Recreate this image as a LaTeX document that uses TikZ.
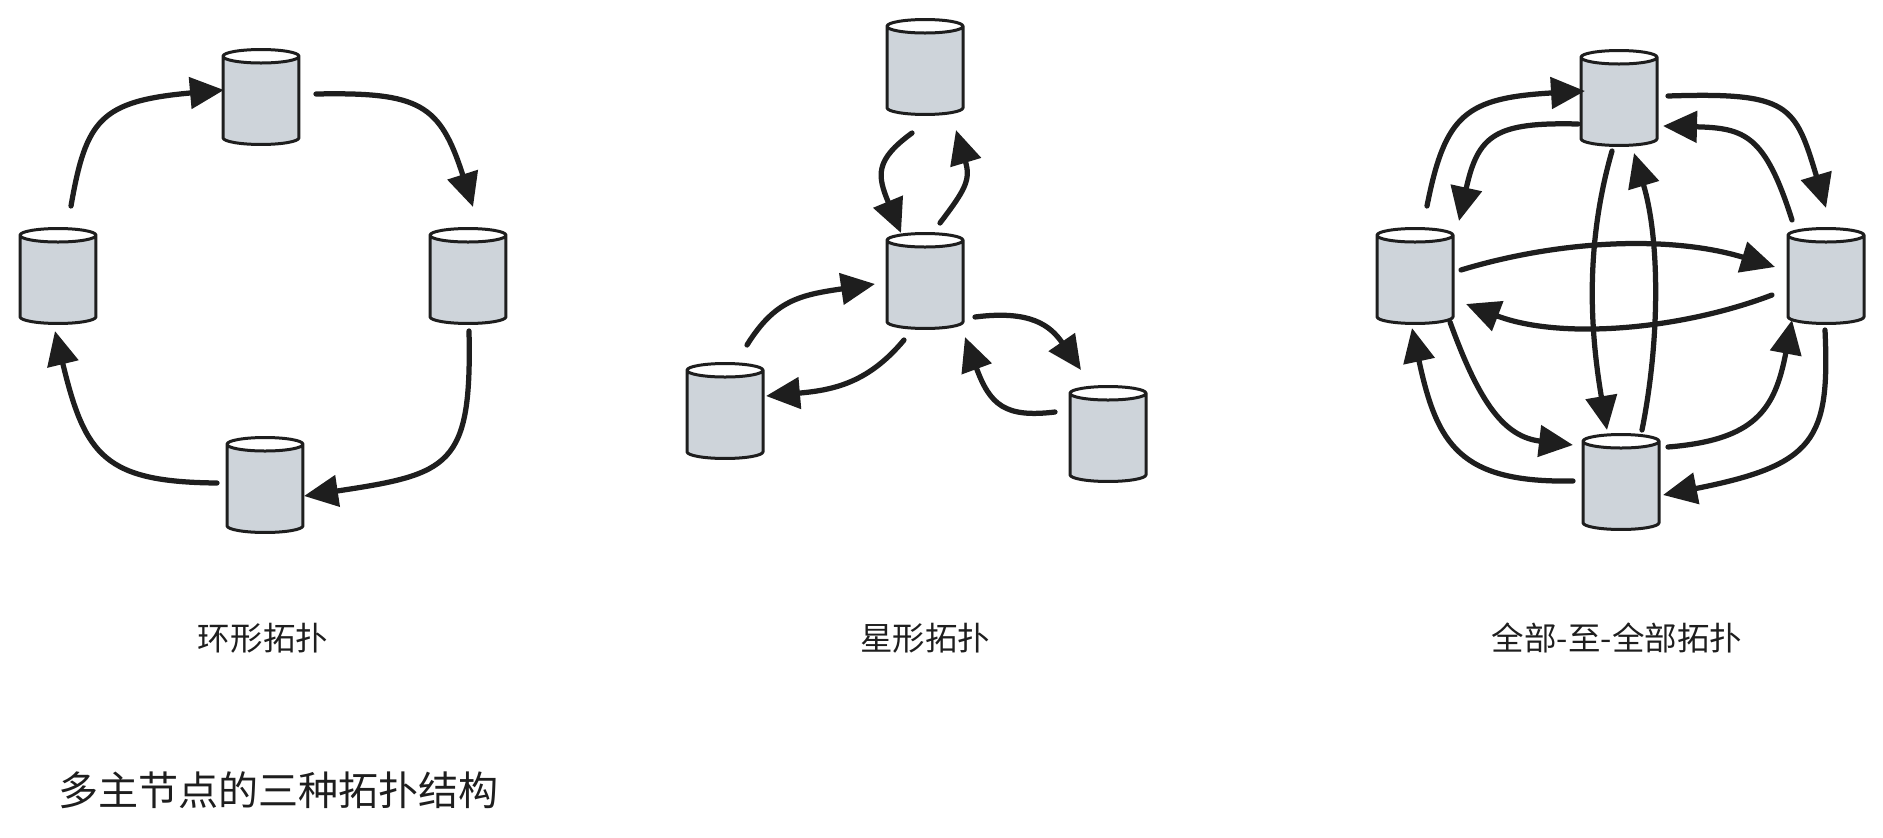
\documentclass[tikz,border=0pt]{standalone}
\usepackage{fontspec}
\setmainfont{Noto Sans CJK SC}
\usetikzlibrary{shapes.geometric, arrows.meta}
\definecolor{ink}{HTML}{1E1E1E}
\definecolor{dbgray}{HTML}{CED4DA}

\begin{document}
\begin{tikzpicture}
	[x=.02cm, y=-.02cm,
	db/.style={cylinder, shape border rotate=90, shape aspect=.45, draw=ink, line width=.06cm,
		cylinder uses custom fill, cylinder body fill=dbgray, cylinder end fill=white, anchor=shape center,
		inner xsep=.3cm, inner ysep=.76cm, minimum width=1.52cm, minimum height=1.9cm},
	flow/.style={draw=ink, line width=.105cm, line cap=round, -{Triangle[length=.68cm,width=.62cm]}},
	caption/.style={text=ink, font=\fontsize{18.5}{22}\selectfont},
	heading/.style={text=ink, anchor=west, font=\fontsize{22.8}{26}\selectfont}]
   \useasboundingbox (0,0) rectangle (1883,838);

   % ring
   \node[db] (rT) at (261,97) {};
   \node[db] (rL) at (58,276) {};
   \node[db] (rR) at (468,276) {};
   \node[db] (rB) at (265,485) {};
   \draw[flow] ([shift={(13,-70)}]rL.shape center) .. controls +(15,-86) and +(-124,11) .. ([shift={(-37,-7)}]rT.shape center);
   \draw[flow] ([shift={(55,-3)}]rT.shape center) .. controls +(104,-2) and +(-33,-103) .. ([shift={(5,-69)}]rR.shape center);
   \draw[flow] ([shift={(1,55)}]rR.shape center) .. controls +(3,136) and +(146,-22) .. ([shift={(39,11)}]rB.shape center);
   \draw[flow] ([shift={(-48,-2)}]rB.shape center) .. controls +(-112,-1) and +(30,125) .. ([shift={(-3,55)}]rL.shape center);
   \node[caption] (ringName) at (263,638) {环形拓扑};

   % star
   \node[db] (sT) at (925,67) {};
   \node[db] (sC) at (925,281) {};
   \node[db] (sL) at (725,411) {};
   \node[db] (sR) at (1108,434) {};
   \draw[flow] ([shift={(-13,66)}]sT.shape center) .. controls +(-37,27) and +(-24,-58) .. ([shift={(-24,-48)}]sC.shape center);
   \draw[flow] ([shift={(15,-58)}]sC.shape center) .. controls +(25,-33) and +(15,50) .. ([shift={(31,63)}]sT.shape center);
   \draw[flow] ([shift={(22,-66)}]sL.shape center) .. controls +(28,-45) and +(-75,11) .. ([shift={(-50,3)}]sC.shape center);
   \draw[flow] ([shift={(-21,59)}]sC.shape center) .. controls +(-35,42) and +(69,-6) .. ([shift={(41,-15)}]sL.shape center);
   \draw[flow] ([shift={(50,36)}]sC.shape center) .. controls +(55,-7) and +(-31,-45) .. ([shift={(-27,-64)}]sR.shape center);
   \draw[flow] ([shift={(-53,-22)}]sR.shape center) .. controls +(-50,6) and +(25,68) .. ([shift={(40,56)}]sC.shape center);
   \node[caption] (starName) at (925,638) {星形拓扑};

   % all to all
   \node[db] (aT) at (1619,98) {};
   \node[db] (aL) at (1415,276) {};
   \node[db] (aR) at (1826,276) {};
   \node[db] (aB) at (1621,482) {};
   \draw[flow] ([shift={(12,-70)}]aL.shape center) .. controls +(18,-91) and +(-120,7) .. ([shift={(-34,-7)}]aT.shape center);
   \draw[flow] ([shift={(-41,26)}]aT.shape center) .. controls +(-83,-2) and +(19,-86) .. ([shift={(44,-55)}]aL.shape center);
   \draw[flow] ([shift={(49,-2)}]aT.shape center) .. controls +(122,-4) and +(-31,-103) .. ([shift={(0,-68)}]aR.shape center);
   \draw[flow] ([shift={(-34,-56)}]aR.shape center) .. controls +(-27,-85) and +(82,2) .. ([shift={(44,28)}]aT.shape center);
   \draw[flow] ([shift={(46,-6)}]aL.shape center) .. controls +(99,-30) and +(-105,-32) .. ([shift={(-51,-9)}]aR.shape center);
   \draw[flow] ([shift={(-54,19)}]aR.shape center) .. controls +(-92,35) and +(94,36) .. ([shift={(51,28)}]aL.shape center);
   \draw[flow] ([shift={(-7,53)}]aT.shape center) .. controls +(-27,94) and +(-17,-100) .. ([shift={(-14,-52)}]aB.shape center);
   \draw[flow] ([shift={(21,-52)}]aB.shape center) .. controls +(18,-90) and +(26,87) .. ([shift={(15,55)}]aT.shape center);
   \draw[flow] ([shift={(35,46)}]aL.shape center) .. controls +(30,83) and +(-68,-8) .. ([shift={(-48,-37)}]aB.shape center);
   \draw[flow] ([shift={(-48,-1)}]aB.shape center) .. controls +(-113,2) and +(25,117) .. ([shift={(-3,52)}]aL.shape center);
   \draw[flow] ([shift={(47,-35)}]aB.shape center) .. controls +(87,-7) and +(-17,90) .. ([shift={(-34,44)}]aR.shape center);
   \draw[flow] ([shift={(-1,54)}]aR.shape center) .. controls +(5,110) and +(152,-30) .. ([shift={(42,13)}]aB.shape center);
   \node[caption] (allName) at (1617,638) {全部-至-全部拓扑};

   \node[heading] (mainName) at (52,790) {多主节点的三种拓扑结构};
\end{tikzpicture}
\end{document}
